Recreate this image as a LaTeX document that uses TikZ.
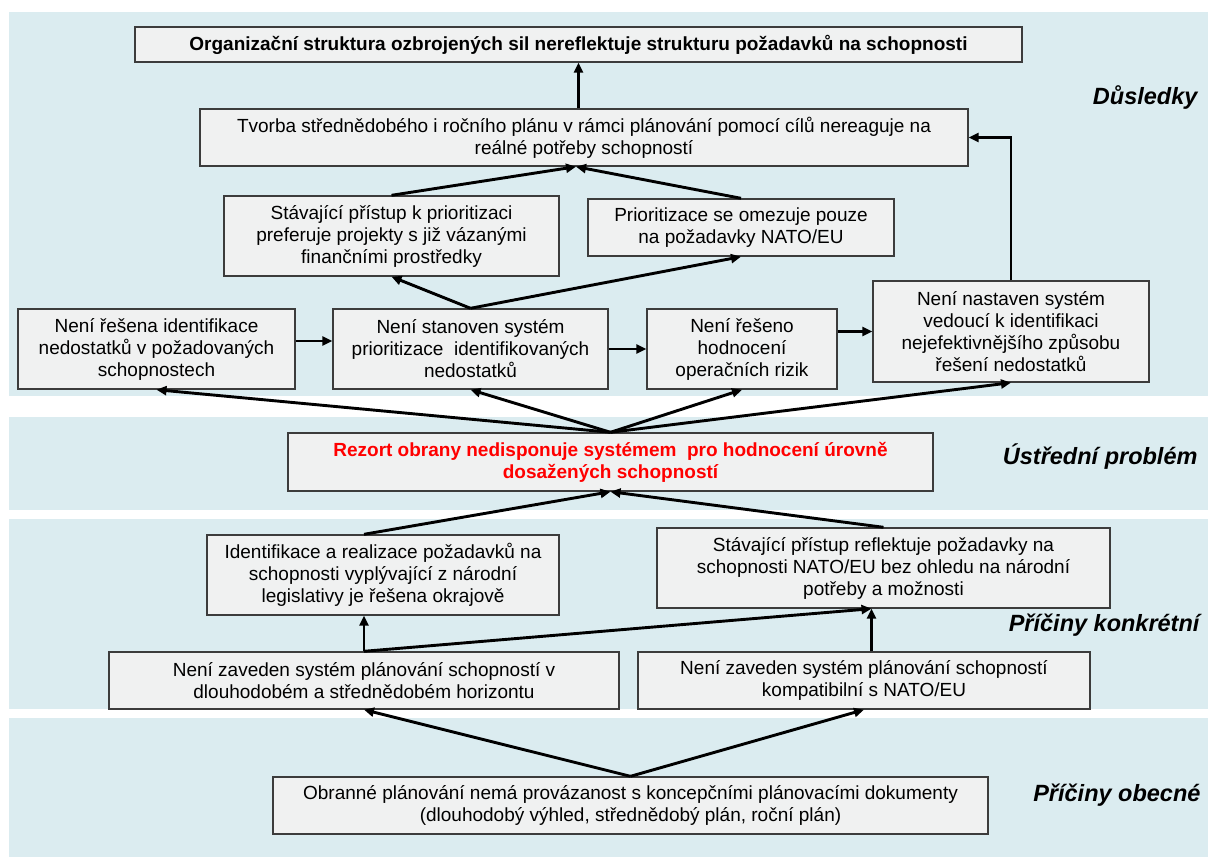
\documentclass[tikz,border=0pt]{standalone}
\usepackage{fontspec}
\setmainfont{Liberation Sans}
\usetikzlibrary{arrows.meta}

\definecolor{bandblue}{RGB}{219,236,240}
\definecolor{boxgray}{RGB}{240,241,241}
\definecolor{boxline}{RGB}{60,60,60}

\begin{document}
\begin{tikzpicture}[x=1pt,y=-1pt,
      box/.style={draw=boxline, fill=boxgray, line width=1.4pt, align=center,
        inner sep=2pt, font=\fontsize{19}{22}\selectfont},
      arr/.style={line width=2.9pt, -{Triangle[length=10pt,width=9pt]}},
      level/.style={anchor=east, font=\fontsize{23.5}{27}\selectfont\bfseries\itshape}]

      \useasboundingbox (0,0) rectangle (1208,857);

% Bands
      \fill[bandblue] (9,12) rectangle (1208,396);
      \fill[bandblue] (9,417) rectangle (1208,510);
      \fill[bandblue] (9,519) rectangle (1208,709);
      \fill[bandblue] (9,718) rectangle (1208,857);

% Level names
      \node[level] (dusl) at (1201,98) {Důsledky};
      \node[level] (ustr) at (1201,457) {Ústřední problém};
      \node[level] (konk) at (1203,625) {Příčiny konkrétní};
      \node[level] (obec) at (1204,795) {Příčiny obecné};

% Consequences
      \node[box, minimum width=887, minimum height=35] (org) at (578.5,44.5)
        {\bfseries Organizační struktura ozbrojených sil nereflektuje strukturu požadavků na schopnosti};
      \node[box, minimum width=768, minimum height=57] (tvorba) at (584,137.5)
        {Tvorba střednědobého i ročního plánu v rámci plánování pomocí cílů nereaguje na\\reálné potřeby schopností};
      \node[box, minimum width=335, minimum height=80] (stavpri) at (391.5,236)
        {Stávající přístup k prioritizaci\\preferuje projekty s již vázanými\\finančními prostředky};
      \node[box, minimum width=306, minimum height=57] (omez) at (741,227.5)
        {Prioritizace se omezuje pouze\\na požadavky NATO/EU};
      \node[box, minimum width=277, minimum height=80] (ident) at (156.5,349)
        {Není řešena identifikace\\nedostatků v požadovaných\\schopnostech};
      \node[box, minimum width=275, minimum height=80] (prior) at (470.5,349)
        {Není stanoven systém\\prioritizace\ \ identifikovaných\\nedostatků};
      \node[box, minimum width=190, minimum height=80] (rizika) at (742,349)
        {Není řešeno\\hodnocení\\operačních rizik};
      \node[box, minimum width=276, minimum height=101] (reseni) at (1011,331.5)
        {Není nastaven systém\\vedoucí k identifikaci\\nejefektivnějšího způsobu\\řešení nedostatků};

% Core problem
      \node[box, minimum width=645, minimum height=58, text=red] (problem) at (610.5,462)
        {\bfseries Rezort obrany nedisponuje systémem\ \ pro hodnocení úrovně\\\bfseries dosažených schopností};

% Causes
      \node[box, minimum width=352, minimum height=80] (narod) at (383,575)
        {Identifikace a realizace požadavků na\\schopnosti vyplývající z národní\\legislativy je řešena okrajově};
      \node[box, minimum width=453, minimum height=80] (nato) at (883.5,568)
        {Stávající přístup reflektuje požadavky na\\schopnosti NATO/EU bez ohledu na národní\\potřeby a možnosti};
      \node[box, minimum width=510, minimum height=57] (dlouho) at (364,680.5)
        {Není zaveden systém plánování schopností v\\dlouhodobém a střednědobém horizontu};
      \node[box, minimum width=452, minimum height=57] (kompat) at (864,680.5)
        {Není zaveden systém plánování schopností\\kompatibilní s NATO/EU};
      \node[box, minimum width=715, minimum height=57] (obranne) at (630.5,805.5)
        {Obranné plánování nemá provázanost s koncepčními plánovacími dokumenty\\(dlouhodobý výhled, střednědobý plán, roční plán)};
      \coordinate (natoin) at ([xshift=-12pt]nato.south);

% Links in the upper band
      \draw[arr] (tvorba.north -| org.south) -- (org.south);
      \draw[arr] (stavpri.north) -- ([xshift=-8pt]tvorba.south);
      \draw[arr] (omez.north) -- ([xshift=-8pt]tvorba.south);
      \draw[arr] (prior.north) -- (stavpri.south);
      \draw[arr] (prior.north) -- (omez.south);
      \draw[arr] ([yshift=8pt]ident.east) -- ([yshift=8pt]ident.east -| prior.west);
      \draw[arr] (prior.east) -- (rizika.west);
      \draw[arr] (rizika.east |- reseni.west) -- (reseni.west);
      \draw[arr] (reseni.north) |- (tvorba.east);

% Links from the core problem
      \foreach \n in {ident, prior, rizika, reseni}
        \draw[arr] (problem.north) -- (\n.south);
      \draw[arr] (narod.north -| dlouho.north) -- (problem.south);
      \draw[arr] (nato.north) -- (problem.south);

% Links in the lower bands
      \draw[arr] (dlouho.north) -- (dlouho.north |- narod.south);
      \draw[arr] (dlouho.north) -- (natoin);
      \draw[arr] (natoin |- kompat.north) -- (natoin);
      \draw[arr] (obranne.north) -- (dlouho.south);
      \draw[arr] (obranne.north) -- (kompat.south);

    \end{tikzpicture}
\end{document}
